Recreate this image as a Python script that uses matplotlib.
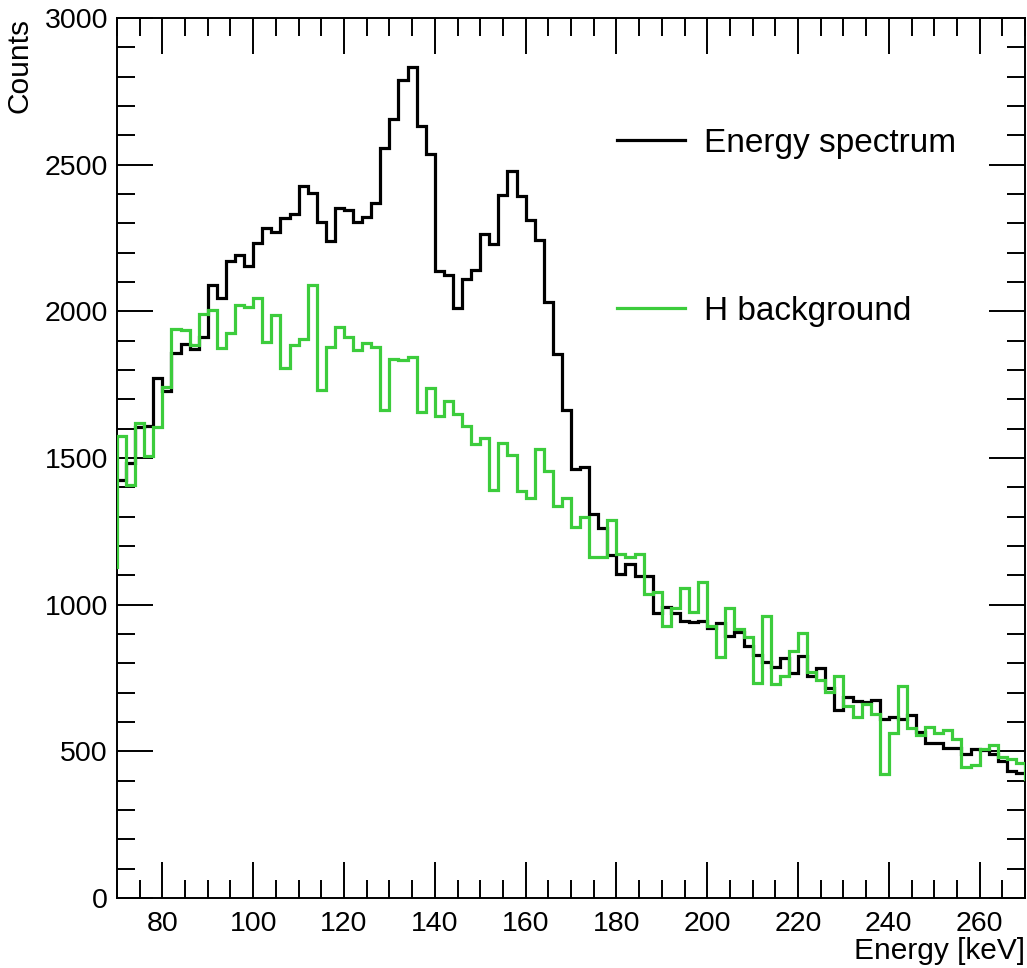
import matplotlib.pyplot as plt
import numpy as np
from matplotlib.ticker import MultipleLocator

plt.rcParams['font.family'] = ['Liberation Sans', 'DejaVu Sans']

# 2 keV bins, 70..270 keV; one extra bin each side (outside the view) for the edge steps
bin_lo = 68
bin_hi = 272
bin_w = 2

spectrum_under = 1425
spectrum_over = 427
spectrum = [1425, 1484, 1606, 1610, 1774, 1729, 1858, 1890, 1873, 1911,
            2091, 2047, 2171, 2192, 2156, 2233, 2284, 2270, 2318, 2331,
            2427, 2402, 2303, 2240, 2353, 2347, 2305, 2320, 2371, 2556,
            2657, 2790, 2833, 2632, 2535, 2138, 2123, 2012, 2110, 2140,
            2263, 2231, 2396, 2478, 2392, 2313, 2242, 2032, 1853, 1665,
            1464, 1470, 1309, 1262, 1169, 1103, 1140, 1098, 1098, 972,
            993, 973, 944, 940, 943, 922, 937, 893, 908, 859,
            828, 805, 786, 819, 766, 826, 757, 783, 717, 641,
            686, 672, 668, 674, 609, 616, 610, 623, 567, 529,
            529, 510, 510, 491, 508, 504, 490, 468, 433, 427]

bkg_under = 1130
bkg_over = 406
bkg = [1576, 1408, 1621, 1507, 1606, 1743, 1941, 1936, 1885, 1990,
       2004, 1875, 1927, 2021, 2015, 2044, 1896, 1989, 1807, 1885,
       1907, 2089, 1731, 1879, 1945, 1913, 1868, 1893, 1879, 1663,
       1839, 1834, 1845, 1657, 1740, 1643, 1694, 1650, 1610, 1547,
       1569, 1391, 1552, 1510, 1387, 1364, 1532, 1455, 1337, 1362,
       1265, 1299, 1163, 1163, 1290, 1174, 1163, 1174, 1035, 1042,
       927, 987, 1058, 975, 1076, 928, 820, 987, 916, 891,
       734, 961, 728, 757, 842, 904, 771, 743, 703, 758,
       654, 618, 661, 627, 423, 563, 724, 578, 556, 584,
       563, 573, 542, 445, 453, 508, 521, 482, 474, 459]

labels = ['Energy spectrum', 'H background']
black = 'black'
green = '#3ccc3c'

edges = np.arange(bin_lo, bin_hi + bin_w, bin_w)
spec_vals = np.array([spectrum_under] + spectrum + [spectrum_over])
bkg_vals = np.array([bkg_under] + bkg + [bkg_over])

fig = plt.figure(figsize=(10.27, 9.68), dpi=100)
ax = fig.add_axes([0.1139, 0.0723, 0.8842, 0.9091])

ax.stairs(spec_vals, edges, baseline=None, color=black, lw=2.3, zorder=3)
ax.stairs(bkg_vals, edges, baseline=None, color=green, lw=2.3, zorder=4)

# legend proxies
l1, = ax.plot([], [], color=black, lw=2.3)
l2, = ax.plot([], [], color=green, lw=2.3)
ax.legend([l1, l2], labels, loc='upper left', bbox_to_anchor=(0.5507, 0.875),
          frameon=False, fontsize=24, handlelength=2.05, handletextpad=0.55,
          labelspacing=4.1, borderpad=0, borderaxespad=0)

ax.set_xlim(70, 270)
ax.set_ylim(0, 3000)
ax.xaxis.set_major_locator(MultipleLocator(20))
ax.xaxis.set_minor_locator(MultipleLocator(5))
ax.yaxis.set_major_locator(MultipleLocator(500))
ax.yaxis.set_minor_locator(MultipleLocator(100))

ax.tick_params(which='both', direction='in', top=True, right=True, width=1.4)
ax.tick_params(which='major', length=26, labelsize=20.5)
ax.tick_params(axis='y', which='major', pad=6.5)
ax.tick_params(axis='x', which='major', pad=9)
ax.tick_params(which='minor', length=13)
for s in ax.spines.values():
    s.set_linewidth(1.4)

ax.set_ylabel('Counts', fontsize=21.5, loc='top')
ax.yaxis.set_label_coords(-0.092, 1.0)
ax.set_xlabel('Energy [keV]', fontsize=21.5, loc='right')
ax.xaxis.set_label_coords(1.0, -0.044)

fig.savefig('out.png', dpi=100)
